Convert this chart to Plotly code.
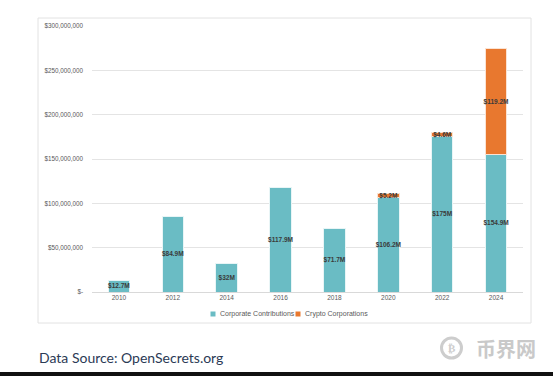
import plotly.graph_objects as go

years = ["2010", "2012", "2014", "2016", "2018", "2020", "2022", "2024"]
corporate = [12.7, 84.9, 32, 117.9, 71.7, 106.2, 175, 154.9]  # $M
crypto = [None, None, None, None, None, 5.2, 4.6, 119.2]  # $M
ytick_vals = [0, 50e6, 100e6, 150e6, 200e6, 250e6, 300e6]
ytick_text = ["$-", "$50,000,000", "$100,000,000", "$150,000,000",
              "$200,000,000", "$250,000,000", "$300,000,000"]
series_names = ["Corporate Contributions", "Crypto Corporations"]

TEAL = "#6abcc4"
ORANGE = "#e8782f"

def lab(v):
    if not v:
        return ""
    return f"${v:g}M"

def mval(v):
    return None if v is None else v * 1e6

LABEL_FONT = dict(family="Liberation Sans, Arial", size=6.5, color="#3a3a3a", weight="bold")

fig = go.Figure()
fig.add_trace(go.Bar(
    x=years, y=[mval(v) for v in corporate], name=series_names[0],
    marker=dict(color=TEAL, line=dict(color="#e8f5f6", width=1)),
    text=[lab(v) for v in corporate], textposition="inside", textangle=0,
    insidetextanchor="middle", constraintext="none", textfont=LABEL_FONT,
    showlegend=False,
))
fig.add_trace(go.Bar(
    x=years, y=[mval(v) for v in crypto], name=series_names[1],
    marker=dict(color=ORANGE, line=dict(color="#fbe3d3", width=1)),
    text=[lab(v) for v in crypto], textposition="inside", textangle=0,
    insidetextanchor="middle", constraintext="none", textfont=LABEL_FONT,
    showlegend=False,
))

W, H = 553, 376
L, R, T, B = 92, 30, 26, 84
pw, ph = W - L - R, H - T - B

def px(x):
    return (x - L) / pw

def py(y):
    return (H - B - y) / ph

shapes = [
    dict(type="rect", xref="paper", yref="paper", x0=px(38), x1=px(531),
         y0=py(323), y1=py(18), line=dict(color="#e2e2e2", width=1), layer="below"),
    # watermark logo ring
    dict(type="circle", xref="paper", yref="paper", x0=px(441.5), x1=px(461.5),
         y0=py(358), y1=py(338), line=dict(color="#cdcdcd", width=3)),
    # dark strip at the bottom edge
    dict(type="rect", xref="paper", yref="paper", x0=px(0), x1=px(W),
         y0=py(H + 2), y1=py(372), fillcolor="#111111", line=dict(width=0)),
]
annotations = [
    dict(text="Data Source: OpenSecrets.org", xref="paper", yref="paper",
         x=px(37), y=py(357), xanchor="left", yanchor="middle", showarrow=False,
         font=dict(family="Lato, Open Sans", size=14, color="#2b3a55")),
    dict(text="₿", xref="paper", yref="paper", x=px(451.5), y=py(348),
         xanchor="center", yanchor="middle", showarrow=False,
         font=dict(family="DejaVu Sans", size=11, color="#cdcdcd", weight="bold")),
    dict(text="币界网", xref="paper", yref="paper", x=px(474), y=py(348),
         xanchor="left", yanchor="middle", showarrow=False,
         font=dict(family="Noto Sans CJK SC", size=20, color="#c9c9c9", weight="bold")),
]
# manual compact legend
legend_pos = [(213, TEAL), (298, ORANGE)]
for name, (sx, col) in zip(series_names, legend_pos):
    shapes.append(dict(type="rect", xref="paper", yref="paper",
                       x0=px(sx - 2.5), x1=px(sx + 2.5), y0=py(316.5), y1=py(311.5),
                       fillcolor=col, line=dict(width=0)))
    annotations.append(dict(text=name, xref="paper", yref="paper", x=px(sx + 4.5), y=py(314),
                            xanchor="left", yanchor="middle", showarrow=False,
                            font=dict(family="Liberation Sans, Arial", size=7, color="#595959")))

fig.update_layout(
    width=W, height=H, barmode="stack", bargap=0.6,
    margin=dict(l=L, r=R, t=T, b=B, autoexpand=False),
    paper_bgcolor="white", plot_bgcolor="white",
    font=dict(family="Liberation Sans, Arial", color="#595959", size=7),
    showlegend=False,
    xaxis=dict(showgrid=False, ticks="", showline=False, automargin=False,
               tickfont=dict(size=6.5, color="#595959")),
    yaxis=dict(range=[0, 300e6], tickvals=ytick_vals, ticktext=ytick_text, automargin=False,
               showgrid=True, gridcolor="#e4e4e4", gridwidth=1, zeroline=True,
               zerolinecolor="#d9d9d9", zerolinewidth=1, ticks="",
               tickfont=dict(size=6.3, color="#595959"), ticklabelstandoff=8),
    shapes=shapes,
    annotations=annotations,
)

fig.write_html("out.html", config={"displayModeBar": False},
               post_script="document.body.style.margin='0';document.body.style.overflow='hidden';")
